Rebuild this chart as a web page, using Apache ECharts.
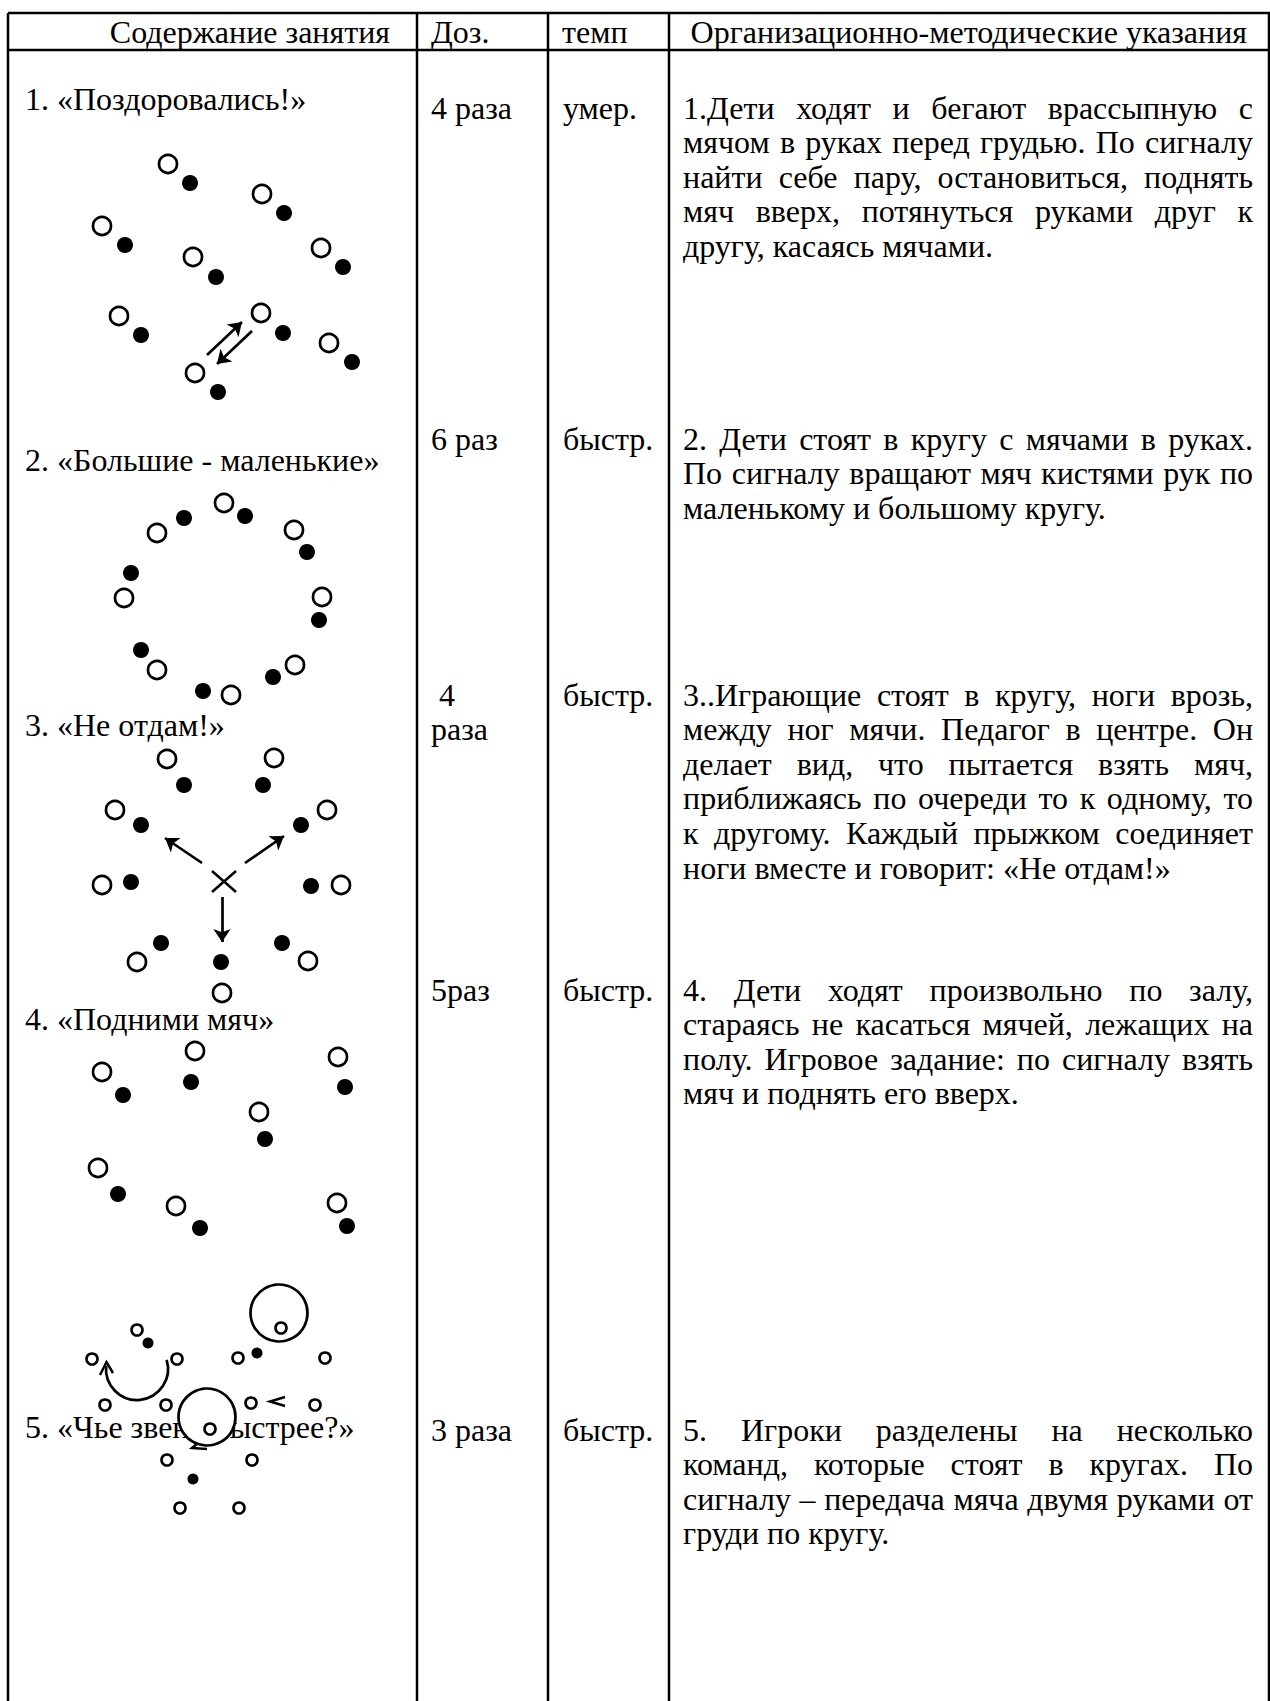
<!DOCTYPE html>
<html><head><meta charset="utf-8">
<script src="https://cdn.jsdelivr.net/npm/echarts@6/dist/echarts.min.js"></script>
<style>html,body{margin:0;padding:0;background:#fff}#c{width:1270px;height:1701px}</style>
</head><body><div id="c"></div>
<script>
// ---------- texts ----------
const headers = ['Содержание занятия', 'Доз.', 'темп', 'Организационно-методические указания'];
const titles = ['1. «Поздоровались!»', '2. «Большие - маленькие»', '3. «Не отдам!»', '4. «Подними мяч»', '5. «Чье звено быстрее?»'];
const doses = [['4 раза'], ['6 раз'], [' 4', 'раза'], ['5раз'], ['3 раза']];
const tempos = ['умер.', 'быстр.', 'быстр.', 'быстр.', 'быстр.'];
const notes = [
  ['1.Дети ходят и бегают врассыпную с', 'мячом в руках перед грудью. По сигналу', 'найти себе пару, остановиться, поднять', 'мяч вверх, потянуться руками друг к', 'другу, касаясь мячами.'],
  ['2. Дети стоят в кругу с мячами в руках.', 'По сигналу вращают мяч кистями рук по', 'маленькому и большому кругу.'],
  ['3..Играющие стоят в кругу, ноги врозь,', 'между ног мячи. Педагог в центре. Он', 'делает вид, что пытается взять мяч,', 'приближаясь по очереди то к одному, то', 'к другому. Каждый прыжком соединяет', 'ноги вместе и говорит: «Не отдам!»'],
  ['4. Дети ходят произвольно по залу,', 'стараясь не касаться мячей, лежащих на', 'полу. Игровое задание: по сигналу взять', 'мяч и поднять его вверх.'],
  ['5. Игроки разделены на несколько', 'команд, которые стоят в кругах. По', 'сигналу – передача мяча двумя руками от', 'груди по кругу.']
];

// ---------- diagram marks (pixel coordinates of the page) ----------
const d1Players = [[168,164],[262,194],[102,226],[193,257],[321,248],[119,316],[261,313],[329,343],[195,373]];
const d1Balls   = [[190,183],[284,213],[125,245],[216,277],[343,267],[141,335],[283,333],[352,362],[218,392]];
const d1Arrows  = [[[207,355],[242,322]], [[252,331],[217,364]]];

const d2Players = [[224,503],[157,533],[294,530],[124,598],[322,597],[157,670],[295,665],[231,695]];
const d2Balls   = [[245,516],[184,518],[307,552],[131,573],[319,620],[141,650],[273,677],[203,691]];

const d3Players = [[167,759],[274,758],[115,810],[327,810],[102,885],[341,885],[137,962],[308,961],[222,993]];
const d3Balls   = [[184,785],[263,785],[141,825],[301,825],[131,882],[311,886],[161,943],[221,962],[282,943]];
const d3Arrows  = [[[202,863],[165,838]], [[245,863],[284,836]], [[222,897],[222,942]]];
const d3Cross   = [[[212,871],[236,892]], [[212,892],[236,871]]];

const d4Players = [[195,1051],[102,1072],[338,1057],[259,1112],[98,1168],[176,1206],[337,1203]];
const d4Balls   = [[191,1082],[123,1095],[345,1087],[265,1139],[118,1194],[200,1228],[347,1226]];

const d5Rings   = [[279,1313],[207,1417]];
const d5Players = [[281,1328],[137,1330],[92,1359],[177,1359],[238,1358],[325,1358],[105,1405],[166,1405],[251,1403],[315,1405],[210,1429],[167,1460],[252,1460],[180,1508],[239,1508]];
const d5Balls   = [[148,1343],[257,1353],[193,1479]];
const d5Arc     = [[137,1369,31,-0.3,3.24]];
const d5Strokes = [[[100,1375],[106.5,1362],[113,1373]], [[285,1397],[270,1401.5],[285,1406]], [[205,1437],[192,1448],[207,1449]]];

// ---------- layout ----------
const W = 1270, H = 1701;
const FONT = '32px "Liberation Serif", "Times New Roman", serif';
const colX = [8, 417, 548, 669, 1269];
const tableTop = 13, headLine = 50;
const headerBaseline = 42;
const rowBaseline = [118, 449, 705, 1000, 1440];
const titleBaseline = [109, 470, 735, 1029, 1437];
const lineH = 34.6;
const bodyLeft = 683, bodyRight = 1253;
const MID = 10.5; // baseline -> central offset

const ctx = document.createElement('canvas').getContext('2d');
ctx.font = FONT;

const g = [];
function txt(s, x, base, align) {
  g.push({type: 'text', x: x, y: base - MID, silent: true,
    style: {text: s, font: FONT, fill: '#000', lineHeight: 30, textAlign: align || 'left', textVerticalAlign: 'middle', align: align || 'left', verticalAlign: 'middle'}});
}
function hline(y, x1, x2) { g.push({type: 'line', silent: true, shape: {x1: x1, y1: y, x2: x2, y2: y}, style: {stroke: '#000', lineWidth: 2.5}}); }
function vline(x, y1, y2) { g.push({type: 'line', silent: true, shape: {x1: x, y1: y1, x2: x, y2: y2}, style: {stroke: '#000', lineWidth: 2.5}}); }

// table frame
hline(tableTop, colX[0], W);
hline(headLine, colX[0], W);
colX.forEach(function (x) { vline(x, tableTop, H); });

// header
txt(headers[0], 390, headerBaseline, 'right');
txt(headers[1], 431, headerBaseline);
txt(headers[2], 562, headerBaseline);
txt(headers[3], 1247, headerBaseline, 'right');

// rows
titles.forEach(function (t, i) { txt(t, 25, titleBaseline[i]); });
doses.forEach(function (d, i) { d.forEach(function (s, j) { txt(s, 431, rowBaseline[i] + j * lineH); }); });
tempos.forEach(function (t, i) { txt(t, 563, rowBaseline[i]); });

notes.forEach(function (lines, i) {
  lines.forEach(function (ln, k) {
    const words = ln.split(/\s+/).filter(Boolean);
    const last = k === lines.length - 1;
    const ws = words.map(function (w) { return ctx.measureText(w).width; });
    const total = ws.reduce(function (a, b) { return a + b; }, 0);
    const sp = (last || words.length < 2) ? ctx.measureText(' ').width : (bodyRight - bodyLeft - total) / (words.length - 1);
    let x = bodyLeft;
    words.forEach(function (w, j) { txt(w, x, rowBaseline[i] + k * lineH); x += ws[j] + sp; });
  });
});

const openStyle = {color: '#fff', borderColor: '#000', borderWidth: 2.7, opacity: 1};
const fillStyle = {color: '#000', opacity: 1};
const players = d1Players.concat(d2Players, d3Players, d4Players);
const balls = d1Balls.concat(d2Balls, d3Balls, d4Balls);
const arrows = d1Arrows.concat(d3Arrows).map(function (c) { return {coords: c}; });
const strokes = d3Cross.concat(d5Strokes).map(function (c) { return {coords: c}; });

const option = {
  animation: false,
  backgroundColor: '#fff',
  grid: {left: 0, right: 0, top: 0, bottom: 0},
  xAxis: {type: 'value', min: 0, max: W, show: false},
  yAxis: {type: 'value', min: 0, max: H, inverse: true, show: false},
  graphic: {elements: g},
  series: [
    {type: 'scatter', silent: true, data: players, symbol: 'circle', symbolSize: 18, itemStyle: openStyle},
    {type: 'scatter', silent: true, data: balls, symbol: 'circle', symbolSize: 16, itemStyle: fillStyle},
    {type: 'scatter', silent: true, data: d5Rings, symbol: 'circle', symbolSize: 57, itemStyle: openStyle},
    {type: 'scatter', silent: true, data: d5Players, symbol: 'circle', symbolSize: 11, itemStyle: {color: '#fff', borderColor: '#000', borderWidth: 2.6, opacity: 1}},
    {type: 'scatter', silent: true, data: d5Balls, symbol: 'circle', symbolSize: 11, itemStyle: fillStyle},
    {type: 'lines', coordinateSystem: 'cartesian2d', silent: true, data: arrows, symbol: ['none', 'arrow'], symbolSize: 13,
      lineStyle: {color: '#000', width: 2.7, opacity: 1, curveness: 0}},
    {type: 'lines', coordinateSystem: 'cartesian2d', polyline: true, silent: true, data: strokes, symbol: 'none',
      lineStyle: {color: '#000', width: 2.5, opacity: 1}},
    {type: 'custom', coordinateSystem: 'cartesian2d', silent: true, data: d5Arc, encode: {x: 0, y: 1},
      renderItem: function (p, api) {
        const c = api.coord([api.value(0), api.value(1)]);
        const r = api.size([api.value(2), 0])[0];
        return {type: 'arc', shape: {cx: c[0], cy: c[1], r: r, startAngle: api.value(3), endAngle: api.value(4), clockwise: true},
          style: {stroke: '#000', lineWidth: 2.7, fill: null}};
      }}
  ]
};
const chart = echarts.init(document.getElementById('c'), null, {renderer: 'svg', width: W, height: H});
chart.setOption(option);
</script></body></html>
